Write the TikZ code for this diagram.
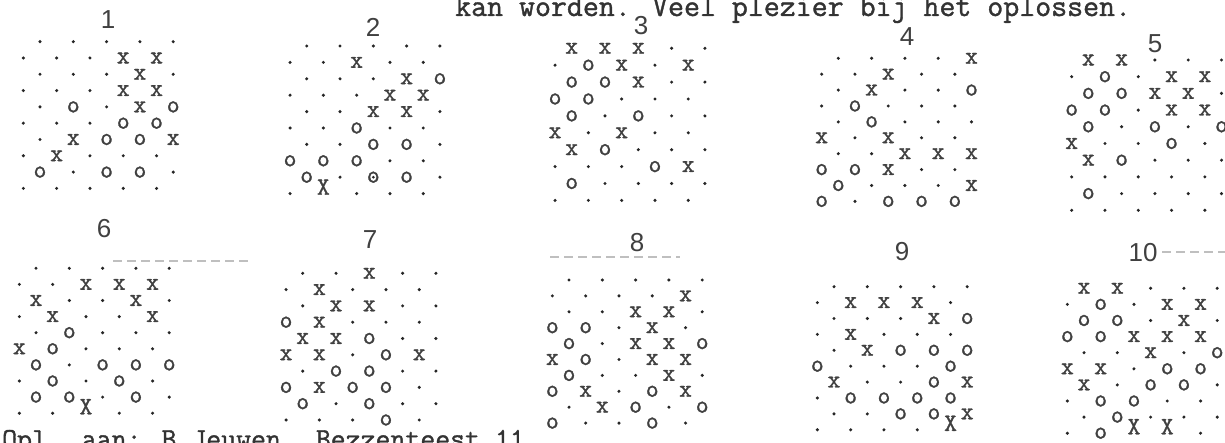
\documentclass[tikz,border=0pt]{standalone}
\usepackage{fontspec}
\newfontfamily\labelfont{Liberation Sans}
\newfontfamily\twfont{Latin Modern Mono}[FakeBold=1.2]
\def\glyphd{}
\def\glyphx{x}
\def\glypho{o}
\def\glyphX{X}
\def\glyphq{o}
\newcommand\drawpuzzle[5]{%
  \foreach \prow [count=\r] in {#5} {
    \foreach \cellv [count=\k] in \prow {
      \pgfmathsetmacro\xx{#2 + (\k-1)*33.3 - mod(\r+1,2)*16.65}
      \pgfmathsetmacro\yy{#3 + (\r-1)*#4}
      \node[cell\cellv] (g#1-\r-\k) at (\xx,\yy) {\csname glyph\cellv\endcsname};
    }
  }
}
\begin{document}
\begin{tikzpicture}[x=1pt,y=-1pt,
  gl/.style={font=\twfont\fontsize{25}{25}\selectfont, text=black!75, inner sep=0pt},
  celld/.style={circle, fill=black!85, inner sep=0pt, minimum size=3.4pt},
  cellx/.style={gl},
  cello/.style={gl},
  cellX/.style={gl, yshift=6.5pt},
  cellq/.style={gl},
  num/.style={font=\labelfont\fontsize{26}{26}\selectfont, text=black!75, inner sep=0pt},
  typed/.style={font=\twfont\fontsize{31}{31}\selectfont, text=black!80, inner sep=0pt, anchor=base west},
  typedb/.style={font=\twfont\fontsize{29}{29}\selectfont, text=black!80, inner sep=0pt, anchor=base west},
  smudge/.style={draw=black!25, line width=1.2pt, dash pattern=on 9pt off 5pt}]
\useasboundingbox (0,0) rectangle (1225,443);
\fill[white] (0,0) rectangle (1225,443);

% faint show-through marks of the scan
\draw[smudge] (113,261) -- (250,261);
\draw[smudge] (550,257) -- (680,257);
\draw[smudge] (1162,252) -- (1225,252);

% typed lines (cut by page edges)
\node[typed] (topline) at (455,16) {kan worden. Veel plezier bij het oplossen.};
\node[typedb] (botline) at (2,448) {Opl. aan: B.Jeuwen. Bezzenteest 11};

% labels
\node[num] (lab1) at (108,20) {1};
\node[num] (lab2) at (373,27) {2};
\node[num] (lab3) at (641,26) {3};
\node[num] (lab4) at (907,37) {4};
\node[num] (lab5) at (1155,44) {5};
\node[num] (lab6) at (104,229) {6};
\node[num] (lab7) at (370,240) {7};
\node[num] (lab8) at (637,243) {8};
\node[num] (lab9) at (902,252) {9};
\node[num] (lab10) at (1143,253) {10};

\drawpuzzle{1}{40}{41.7}{16.3}{{d,d,d,d,d},{d,d,d,x,x},{d,d,d,x,d},{d,d,d,x,x},{d,o,d,x,o},{d,d,d,o,o},{d,x,o,o,x},{d,x,d,d,d},{o,d,o,o,d},{d,d,d,d,d}}
\drawpuzzle{2}{306.7}{46}{16.4}{{d,d,d,d,d},{d,d,x,d,d},{d,d,d,x,o},{d,d,d,x,x},{d,d,x,x,d},{d,d,o,d,d},{d,d,o,o,d},{o,o,o,d,d},{o,d,q,o,d},{d,X,d,d,d}}
\fill[black!85] (g2-9-3.center) circle (1.5pt);
\drawpuzzle{3}{571.7}{48.3}{16.9}{{x,x,x,d,d},{d,o,x,d,x},{o,o,x,d,d},{o,o,d,d,d},{o,d,o,d,d},{x,d,x,d,d},{x,o,d,d,d},{d,d,d,o,x},{o,d,d,d,d},{d,d,d,d,d}}
\drawpuzzle{4}{838.3}{58.3}{15.9}{{d,d,d,d,x},{d,d,x,d,d},{d,x,d,d,o},{d,o,d,d,d},{d,o,d,d,d},{x,d,x,d,d},{d,d,x,x,x},{o,o,x,d,d},{o,d,d,d,x},{o,d,o,o,o}}
\drawpuzzle{5}{1088.3}{60}{16.7}{{x,x,d,d,d},{d,o,d,x,x},{o,o,x,x,d},{o,o,d,x,x},{o,d,o,d,o},{x,d,d,o,d},{x,o,d,d,d},{d,d,d,d,d},{o,d,d,d,d},{d,d,d,d,d}}
\drawpuzzle{6}{36}{268.3}{16.1}{{d,d,d,d,d},{d,d,x,x,x},{x,d,d,x,d},{d,x,d,d,x},{d,o,d,d,d},{x,o,d,d,d},{o,d,o,o,o},{d,o,d,o,d},{o,o,d,o,d},{d,d,X,d,d}}
\drawpuzzle{7}{302.7}{273.3}{16.3}{{d,d,x,d,d},{d,x,d,d,d},{d,x,x,d,d},{o,x,d,d,d},{x,x,o,d,d},{x,x,d,o,x},{d,o,o,d,d},{o,x,o,o,d},{o,d,o,d,d},{d,d,d,o,d}}
\drawpuzzle{8}{569}{280}{15.9}{{d,d,d,d,d},{d,d,d,d,x},{d,d,x,x,d},{o,o,d,x,d},{o,d,x,x,o},{x,o,d,x,x},{o,d,d,x,d},{o,x,d,o,x},{d,x,o,d,o},{o,d,d,o,d}}
\drawpuzzle{9}{834}{286.7}{15.9}{{d,d,d,d,d},{d,x,x,x,d},{d,d,d,x,o},{d,x,d,d,d},{d,x,o,o,o},{o,d,d,d,o},{x,d,d,o,x},{d,o,o,o,o},{d,d,o,o,x},{d,d,d,d,X}}
\drawpuzzle{10}{1084}{288.3}{16.1}{{x,x,d,d,d},{d,o,d,x,x},{o,o,d,x,d},{o,o,x,x,x},{d,d,x,d,o},{x,x,d,o,o},{x,d,o,o,d},{d,o,o,d,d},{d,o,d,d,d},{d,o,X,X,d}}
\end{tikzpicture}
\end{document}
